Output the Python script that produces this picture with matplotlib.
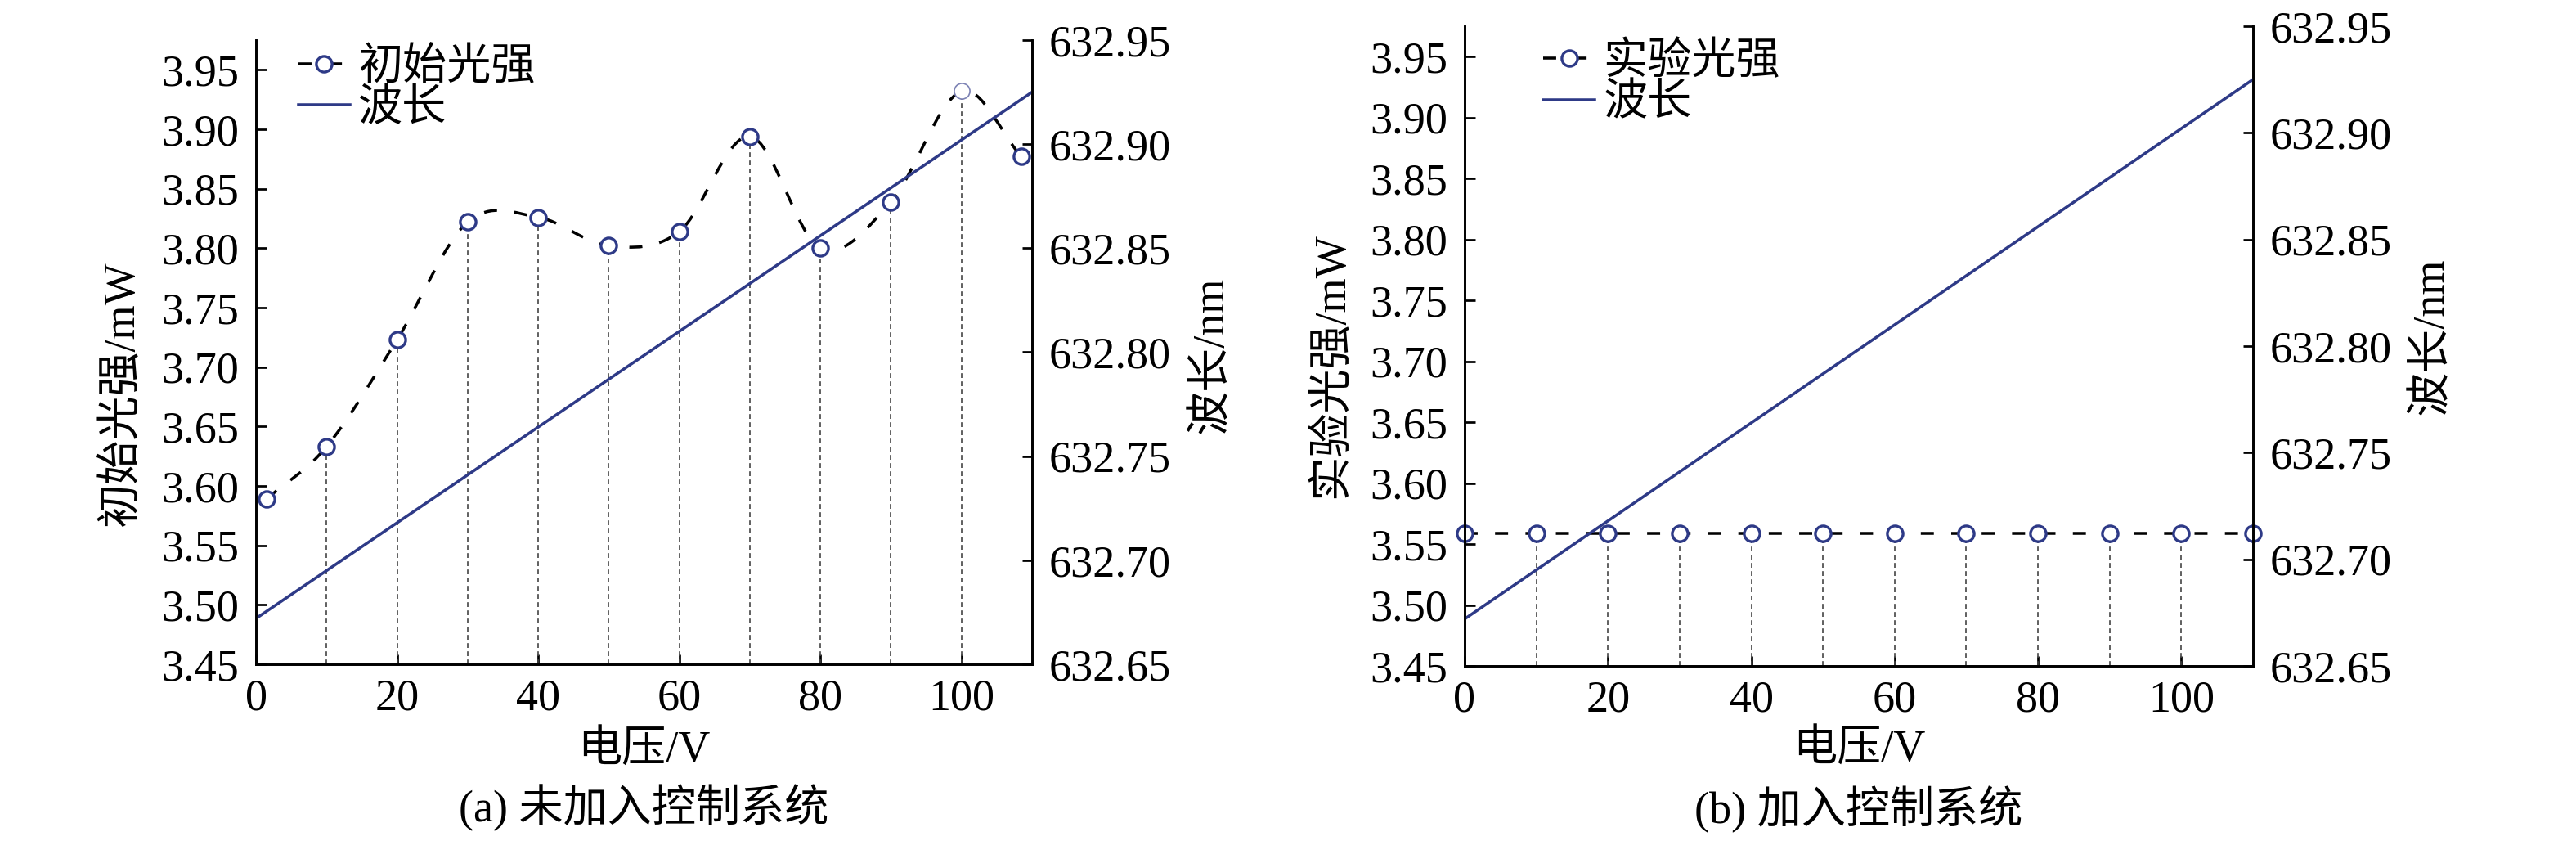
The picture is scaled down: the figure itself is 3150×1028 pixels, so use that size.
import numpy as np
import matplotlib
matplotlib.use('Agg')
import matplotlib.pyplot as plt
from matplotlib.path import Path
from matplotlib.patches import PathPatch
from matplotlib.lines import Line2D

plt.rcParams['font.family'] = ['Liberation Serif', 'Noto Sans CJK SC']
plt.rcParams['font.size'] = 13
plt.rcParams['axes.linewidth'] = 0.65

# 数据
volt_a = [1.5, 10, 20, 30, 40, 50, 60, 70, 80, 90, 100, 108.5]
power_a = [3.589, 3.633, 3.723, 3.822, 3.826, 3.802, 3.814, 3.894, 3.800, 3.839, 3.932, 3.877]

volt_b = [0, 10, 20, 30, 40, 50, 60, 70, 80, 90, 100, 110]
power_b = [3.559, 3.559, 3.559, 3.559, 3.559, 3.559, 3.559, 3.559, 3.559, 3.559, 3.559, 3.559]

volt_w = [0, 10, 20, 30, 40, 50, 60, 70, 80, 90, 100, 110]
wave = [632.672, 632.695, 632.718, 632.741, 632.764, 632.787,
        632.810, 632.833, 632.856, 632.879, 632.902, 632.925]

xticks = [0, 20, 40, 60, 80, 100]
yticks_l = [3.45, 3.50, 3.55, 3.60, 3.65, 3.70, 3.75, 3.80, 3.85, 3.90, 3.95]
yticks_r = [632.65, 632.70, 632.75, 632.80, 632.85, 632.90, 632.95]

navy = '#2e3a87'
dash = (0, (4.5, 6))
drop = (0, (3.5, 2.5))
ms, mew, lw = 4.6, 0.8, 0.85


def smooth_path(x, y):
    # 通过数据点的平滑三次贝塞尔路径
    x = np.asarray(x, float)
    y = np.asarray(y, float)
    m = np.empty_like(y)
    m[1:-1] = (y[2:] - y[:-2]) / (x[2:] - x[:-2])
    m[0] = (y[1] - y[0]) / (x[1] - x[0])
    m[-1] = (y[-1] - y[-2]) / (x[-1] - x[-2])
    verts = [(x[0], y[0])]
    codes = [Path.MOVETO]
    for i in range(len(x) - 1):
        h = x[i + 1] - x[i]
        verts += [(x[i] + h / 3, y[i] + m[i] * h / 3),
                  (x[i + 1] - h / 3, y[i + 1] - m[i + 1] * h / 3),
                  (x[i + 1], y[i + 1])]
        codes += [Path.CURVE4] * 3
    return Path(verts, codes)


def setup(ax, ax2):
    ax.set_xlim(0, 110)
    ax.set_ylim(3.45, 3.975)
    ax2.set_ylim(632.65, 632.95)
    ax.set_xticks(xticks)
    ax.set_yticks(yticks_l)
    ax.set_yticklabels(['%.2f' % v for v in yticks_l])
    ax2.set_yticks(yticks_r)
    ax2.set_yticklabels(['%.2f' % v for v in yticks_r])
    for a in (ax, ax2):
        a.spines['top'].set_visible(False)
        a.tick_params(direction='in', length=3, width=0.65, pad=5, labelsize=13)
    ax.tick_params(axis='x', pad=4)


fig = plt.figure(figsize=(10.5, 3.4267), dpi=300)

# (a) 未加入控制系统
ax = fig.add_axes([0.09937, 0.21012, 0.30127, 0.74222])
ax2 = ax.twinx()
ax.vlines(volt_a[1:-1], 3.45, power_a[1:-1], colors='#444444', lw=0.4, linestyles=drop)
ax.add_patch(PathPatch(smooth_path(volt_a, power_a), fill=False, edgecolor='k',
                       lw=lw, linestyle=dash))
mk = [i for i in range(len(volt_a)) if i != 10]
ax.plot([volt_a[i] for i in mk], [power_a[i] for i in mk], 'o', ms=ms, mfc='w',
        mec=navy, mew=mew, clip_on=False)
ax.plot(volt_a[10], power_a[10], 'o', ms=ms, mfc='w', mec='#7c82b4', mew=0.4)
ax2.plot(volt_w, wave, color=navy, lw=lw)
setup(ax, ax2)
h1 = Line2D([], [], color='k', lw=lw, ls=dash, marker='o', ms=ms, mfc='w', mec=navy, mew=mew)
h2 = Line2D([], [], color=navy, lw=lw)
ax2.legend([h1, h2], ['初始光强', '波长'], loc='upper left', bbox_to_anchor=(0.055, 0.988),
           frameon=False, handlelength=1.15, handletextpad=0.2, labelspacing=0.0,
           borderpad=0, borderaxespad=0, fontsize=13)
ax.set_xlabel('电压/V')
ax.xaxis.set_label_coords(0.5, -0.1389)
ax.xaxis.label.set_va('center')
ax.set_ylabel('初始光强/mW', va='center')
ax.yaxis.set_label_coords(-0.1718, 0.4325)
ax2.set_ylabel('波长/nm', va='center', rotation=90)
ax2.yaxis.set_label_coords(1.2318, 0.4954)
ax.text(0.5, -0.2294, '(a) 未加入控制系统', transform=ax.transAxes, ha='center', va='center')

# (b) 加入控制系统
bx = fig.add_axes([0.56857, 0.20817, 0.30603, 0.76070])
bx2 = bx.twinx()
bx.vlines(volt_b[1:-1], 3.45, power_b[1:-1], colors='#444444', lw=0.4, linestyles=drop)
bx.plot(volt_b, power_b, color='k', lw=lw, ls=dash, marker='o', ms=ms, mfc='w',
        mec=navy, mew=mew, clip_on=False)
bx2.plot(volt_w, wave, color=navy, lw=lw)
setup(bx, bx2)
bx2.legend([h1, h2], ['实验光强', '波长'], loc='upper left', bbox_to_anchor=(0.1, 0.975),
           frameon=False, handlelength=1.15, handletextpad=0.2, labelspacing=0.0,
           borderpad=0, borderaxespad=0, fontsize=13)
bx.set_xlabel('电压/V')
bx.xaxis.set_label_coords(0.5, -0.1317)
bx.xaxis.label.set_va('center')
bx.set_ylabel('实验光强/mW', va='center')
bx.yaxis.set_label_coords(-0.168, 0.4693)
bx2.set_ylabel('波长/nm', va='center', rotation=90)
bx2.yaxis.set_label_coords(1.2272, 0.5153)
bx.text(0.5, -0.2238, '(b) 加入控制系统', transform=bx.transAxes, ha='center', va='center')

fig.savefig('out.png', dpi=300)
